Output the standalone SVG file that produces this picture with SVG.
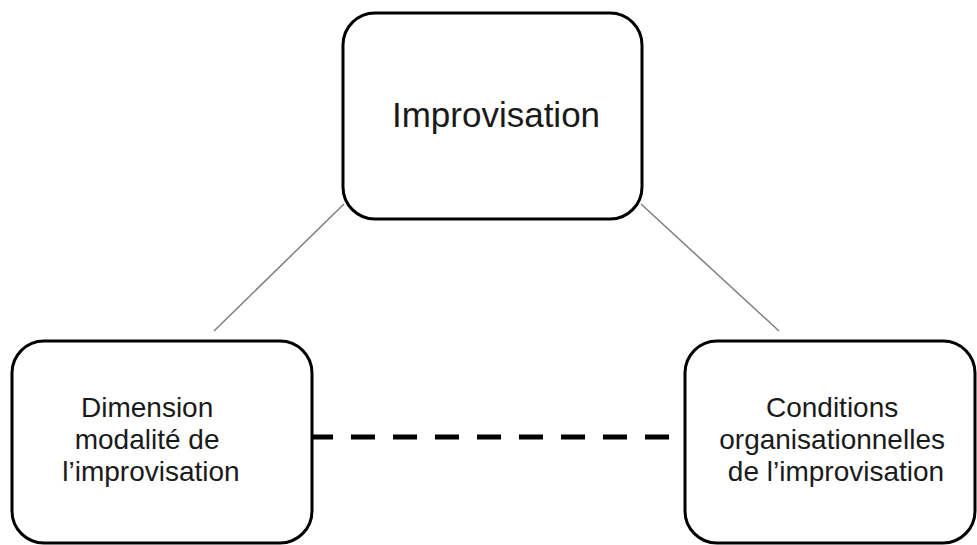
<svg xmlns="http://www.w3.org/2000/svg" width="977" height="545" viewBox="0 0 977 545">
  <style>
    .box { fill: #ffffff; stroke: #000000; stroke-width: 3; }
    .label { font-family: "Liberation Sans", Arial, sans-serif; fill: #1a1a1a; text-anchor: middle; }
    .link { stroke: #7f7f7f; stroke-width: 1.5; fill: none; }
    .dash { stroke: #000000; stroke-width: 5; stroke-dasharray: 24 18; fill: none; }
  </style>
  <rect width="977" height="545" fill="#ffffff"/>

  <!-- connectors -->
  <g id="connectors">
    <line class="link" x1="344" y1="204" x2="214" y2="331"/>
    <line class="link" x1="641" y1="204" x2="779" y2="331"/>
    <line class="dash" x1="309" y1="437" x2="685" y2="437"/>
  </g>

  <!-- top node -->
  <g id="node-improvisation">
    <rect class="box" x="343" y="13" width="299" height="206" rx="32" ry="32"/>
    <text class="label" x="496" y="127" font-size="35">Improvisation</text>
  </g>

  <!-- bottom-left node -->
  <g id="node-dimension">
    <rect class="box" x="12" y="341" width="300" height="202" rx="32" ry="32"/>
    <text class="label" font-size="28">
      <tspan x="151" y="417">Dimension</tspan>
      <tspan x="151" y="449">modalité de</tspan>
      <tspan x="151" y="481">l’improvisation</tspan>
    </text>
  </g>

  <!-- bottom-right node -->
  <g id="node-conditions">
    <rect class="box" x="685" y="341" width="290" height="202" rx="32" ry="32"/>
    <text class="label" font-size="28">
      <tspan x="836" y="417">Conditions</tspan>
      <tspan x="836" y="449">organisationnelles</tspan>
      <tspan x="836" y="481">de l’improvisation</tspan>
    </text>
  </g>
</svg>
